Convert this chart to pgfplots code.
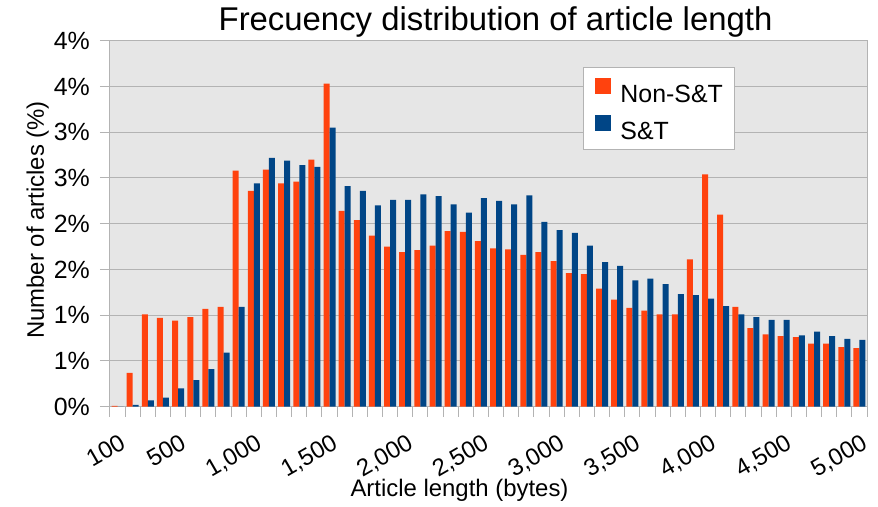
\documentclass[border=0pt]{standalone}
\usepackage{fontspec}
\setmainfont{Liberation Sans}
\usepackage{pgfplots}
\pgfplotsset{compat=1.18}
\definecolor{sorange}{HTML}{FF420E}
\definecolor{sblue}{HTML}{004586}
\definecolor{bgray}{HTML}{E6E6E6}
\definecolor{ggray}{HTML}{B3B3B3}
\begin{document}
\begin{tikzpicture}
\useasboundingbox (-110bp,-100.3bp) rectangle (768bp,406.7bp);
\begin{axis}[
  name=ax,
  at={(0,0)}, anchor=south west,
  scale only axis, width=757bp, height=366bp,
  xmin=0.5, xmax=50.5, ymin=0, ymax=4,
  ybar=0pt, bar width=6bp,
  axis background/.style={fill=bgray},
  axis line style={ggray, line width=1bp},
  ymajorgrids, grid style={ggray, line width=1bp},
  tick style={ggray, line width=1bp},
  tick align=outside, major tick length=10bp, minor tick length=10bp,
  tick pos=left,
  xtick={1,5,10,15,20,25,30,35,40,45,50},
  xticklabels={100,500,{1,000},{1,500},{2,000},{2,500},{3,000},{3,500},{4,000},{4,500},{5,000}},
  major x tick style={draw=none},
  minor xtick={0.5,1.5,...,50.5},
  xticklabel style={yshift=-16bp, xshift=1bp, rotate=30, anchor=north east, inner sep=0pt, font=\fontsize{24}{24}\selectfont},
  ytick={0,0.5,...,4},
  yticklabels={0\%,1\%,1\%,2\%,2\%,3\%,3\%,4\%,4\%},
  yticklabel style={font=\fontsize{25}{25}\selectfont, anchor=east, inner sep=0pt, xshift=-10bp},
  every axis title shift=0pt,
  title={Frecuency distribution of article length},
  title style={at={(axis description cs:0.5093,1.0292)}, anchor=base, inner sep=0pt, font=\fontsize{33}{33}\selectfont},
  xlabel={Article length (bytes)},
  xlabel style={at={(axis description cs:0.4617,-0.2467)}, anchor=base, inner sep=0pt, font=\fontsize{24}{24}\selectfont},
  ylabel={Number of articles (\%)},
  ylabel style={at={(axis description cs:-0.0872,0.5101)}, anchor=base, inner sep=0pt, font=\fontsize{24}{24}\selectfont},
  legend style={at={(axis description cs:0.6248,0.9268)}, anchor=north west,
    draw=ggray, line width=1bp, fill=white,
    font=\fontsize{25}{25}\selectfont,
    inner xsep=12bp, inner ysep=10bp, row sep=12bp,
    nodes={inner sep=0pt, text height=18bp, text depth=0bp},
    /tikz/every odd column/.append style={column sep=9bp}},
  legend cell align=left,
]
\addplot[fill=sorange, draw=none, legend image code/.code={\fill[sorange] (0bp,0bp) rectangle (16bp,16bp);}] coordinates {
(1,0.01) (2,0.37) (3,1.01) (4,0.97) (5,0.94) (6,0.98) (7,1.07) (8,1.09) (9,2.58) (10,2.36)
(11,2.59) (12,2.44) (13,2.46) (14,2.70) (15,3.53) (16,2.14) (17,2.04) (18,1.87) (19,1.75) (20,1.69)
(21,1.71) (22,1.76) (23,1.92) (24,1.91) (25,1.81) (26,1.73) (27,1.72) (28,1.66) (29,1.69) (30,1.59)
(31,1.46) (32,1.45) (33,1.29) (34,1.17) (35,1.08) (36,1.05) (37,1.01) (38,1.01) (39,1.61) (40,2.54)
(41,2.10) (42,1.09) (43,0.86) (44,0.79) (45,0.77) (46,0.76) (47,0.69) (48,0.69) (49,0.65) (50,0.64)
};
\addlegendentry{Non-S\&T}
\addplot[fill=sblue, draw=none, legend image code/.code={\fill[sblue] (0bp,0bp) rectangle (16bp,16bp);}] coordinates {
(1,0) (2,0.02) (3,0.07) (4,0.10) (5,0.20) (6,0.29) (7,0.41) (8,0.59) (9,1.09) (10,2.44)
(11,2.72) (12,2.69) (13,2.64) (14,2.62) (15,3.05) (16,2.41) (17,2.36) (18,2.20) (19,2.26) (20,2.26)
(21,2.32) (22,2.30) (23,2.21) (24,2.12) (25,2.28) (26,2.25) (27,2.21) (28,2.31) (29,2.02) (30,1.93)
(31,1.90) (32,1.76) (33,1.58) (34,1.54) (35,1.38) (36,1.40) (37,1.34) (38,1.23) (39,1.22) (40,1.18)
(41,1.10) (42,1.01) (43,0.98) (44,0.95) (45,0.95) (46,0.78) (47,0.82) (48,0.77) (49,0.74) (50,0.73)
};
\addlegendentry{S\&T}
\end{axis}
\end{tikzpicture}
\end{document}
